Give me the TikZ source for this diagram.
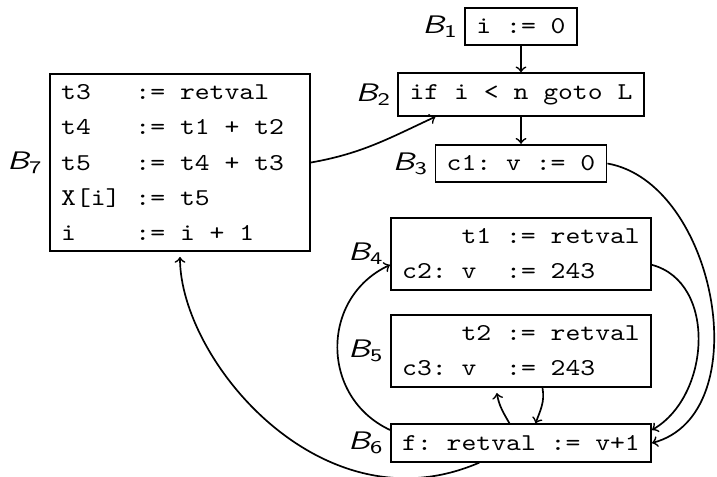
\documentclass[tikz,border=0pt]{standalone}
\usepackage{amsmath}
\usepackage{graphicx}
% code and labels are set in a widened face
\newcommand\cwline[1]{\scalebox{1.17}[1]{#1}}
\newcommand\blkname[1]{\scalebox{1.3}[1]{$\textsf{\itshape B}_{\textsf{#1}}$}}
\begin{document}
\begin{tikzpicture}[x=0.4135pt,y=0.4135pt,
  block/.style={draw, line width=0.7pt, inner xsep=4.67pt, inner ysep=4.6pt,
    font=\fontsize{10}{14.5}\selectfont\ttfamily, align=left},
  blabel/.style={font=\fontsize{10.5}{12.5}\selectfont, inner sep=2.3pt},
  flow/.style={->, line width=0.7pt}]
\useasboundingbox (0,0) rectangle (717,476);

% basic blocks (B7 lines are padded to sixteen columns)
\node[block, label={[blabel]left:\blkname{1}}] (b1) at (521,449.5) {\cwline{i~:=~0}};
\node[block, label={[blabel]left:\blkname{2}}] (b2) at (521,381.5) {\cwline{if~i~<~n~goto~L}};
\node[block, label={[blabel]left:\blkname{3}}] (b3) at (521,312.5) {\cwline{c1:~v~:=~0}};
\node[block, label={[blabel]left:\blkname{7}}] (b7) at (180,313.5)
  {\cwline{t3~~~:=~retval~~}\\\cwline{t4~~~:=~t1~+~t2~}\\\cwline{t5~~~:=~t4~+~t3~}\\\cwline{X[i]~:=~t5~~~~~~}\\\cwline{i~~~~:=~i~+~1~~~}};
\node[block, label={[blabel]left:\blkname{4}}] (b4) at (521,222)
  {\cwline{~~~~t1~:=~retval}\\\cwline{c2:~v~~:=~243~~~}};
\node[block, label={[blabel]left:\blkname{5}}] (b5) at (521,125)
  {\cwline{~~~~t2~:=~retval}\\\cwline{c3:~v~~:=~243~~~}};
\node[block, label={[blabel]left:\blkname{6}}] (b6) at (521,33) {\cwline{f:~retval~:=~v+1}};

% control flow
\draw[flow] (b1) -- (b2);
\draw[flow] (b2) -- (b3);
\draw[flow] (b7.east) to[out=10,in=-155] ([xshift=15.7pt]b2.south west);
\draw[flow] (b3.east) to[out=-10,in=15] (b6.east);
\draw[flow] ([yshift=-4.5pt]b4.east) to[out=-15,in=30,looseness=1.05] ([yshift=5.4pt]b6.east);
\draw[flow] ([yshift=5.4pt]b6.west) to[out=155,in=205,looseness=1.2] ([yshift=-4.5pt]b4.west);
\draw[flow] ([xshift=-4.75pt]b6.north) to[out=120,in=-80] ([xshift=-10pt,yshift=-2pt]b5.south);
\draw[flow] ([xshift=8.9pt]b5.south) to[out=-80,in=70] ([xshift=6pt]b6.north);
\draw[flow] ([xshift=-17.2pt]b6.south) .. controls (322,-55) and (180,116) .. ([yshift=-2pt]b7.south);
\end{tikzpicture}
\end{document}
